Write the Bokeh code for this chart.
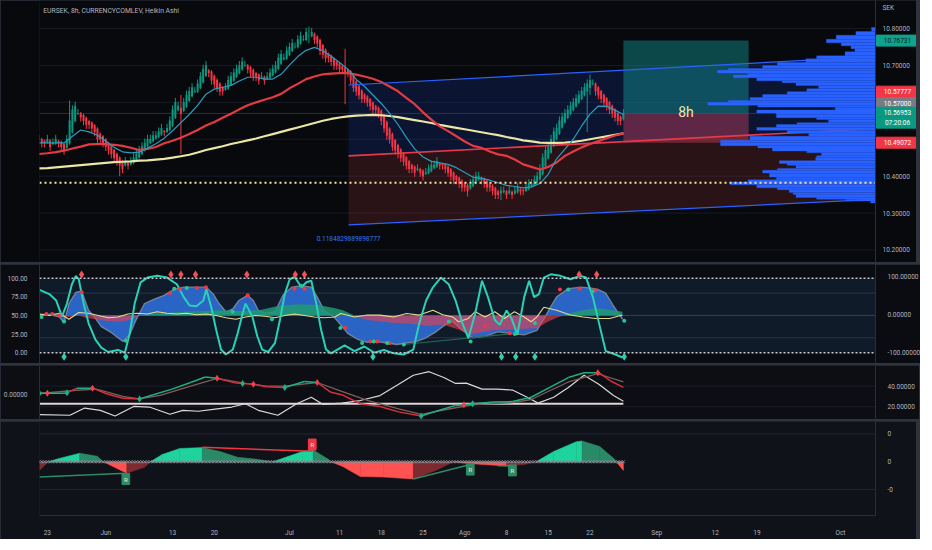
import numpy as np
from bokeh.plotting import figure
from bokeh.models import Range1d, LinearAxis, FixedTicker, PrintfTickFormatter, Span, Label, BoxAnnotation
from bokeh.layouts import column
from bokeh.embed import file_html
from bokeh.resources import INLINE
from bokeh.core.properties import value

# ---------------- time axis (business-day index from 2022-05-23) ----------------
origin = "2022-05-23"
last_bar_date = "2022-08-26"
tick_dates = ["2022-05-23", "2022-06-01", "2022-06-13", "2022-06-20", "2022-07-01", "2022-07-11",
              "2022-07-18", "2022-07-25", "2022-08-01", "2022-08-08", "2022-08-15", "2022-08-22",
              "2022-09-01", "2022-09-12", "2022-09-19", "2022-10-03"]
tick_labels = ["23", "Jun", "13", "20", "Jul", "11", "18", "25", "Ago", "8", "15", "22",
               "Sep", "12", "19", "Oct"]

# ---------------- main panel: Heikin Ashi closes, 8h bars ----------------
ha_close = [
    10.50, 10.49, 10.49, 10.50, 10.48, 10.49, 10.50, 10.49, 10.48,
    10.47, 10.50, 10.55, 10.58, 10.59,
    10.57, 10.56, 10.55, 10.54, 10.54, 10.53, 10.52, 10.50,
    10.50, 10.49, 10.48, 10.47, 10.46, 10.45, 10.44,
    10.43, 10.42, 10.44, 10.43, 10.44, 10.45, 10.46,
    10.47, 10.48, 10.49, 10.50, 10.50, 10.51, 10.51, 10.52, 10.53, 10.52, 10.53, 10.55,
    10.58, 10.60, 10.59, 10.57, 10.60, 10.62, 10.63, 10.64, 10.63,
    10.65, 10.67, 10.69, 10.70, 10.68,
    10.66, 10.65, 10.64, 10.63, 10.63, 10.64,
    10.66, 10.67, 10.68, 10.69, 10.70, 10.71, 10.70,
    10.69, 10.68, 10.67, 10.67, 10.66, 10.67, 10.66, 10.67, 10.68,
    10.69, 10.70, 10.72, 10.73,
    10.72, 10.74, 10.75, 10.76, 10.75, 10.77, 10.78, 10.77, 10.79, 10.78, 10.79,
    10.77, 10.76, 10.74, 10.73, 10.72, 10.72, 10.71, 10.70, 10.70, 10.69, 10.69, 10.68, 10.68,
    10.66, 10.64, 10.63, 10.62, 10.61, 10.61, 10.60, 10.59, 10.58, 10.58, 10.57,
    10.55, 10.53, 10.51, 10.50, 10.48, 10.47, 10.46,
    10.45, 10.44, 10.43, 10.42, 10.42, 10.41, 10.42, 10.41, 10.40, 10.41, 10.42,
    10.43, 10.43, 10.44, 10.43, 10.43,
    10.42, 10.41, 10.40, 10.39, 10.39, 10.38, 10.37, 10.37, 10.36,
    10.38, 10.39, 10.40, 10.40, 10.39,
    10.38, 10.37, 10.37, 10.36, 10.35, 10.35, 10.36, 10.36,
    10.35, 10.36, 10.35, 10.36, 10.37, 10.36, 10.36, 10.37,
    10.38, 10.38, 10.39, 10.40, 10.42,
    10.45, 10.47, 10.48,
    10.50, 10.52, 10.53, 10.55, 10.56, 10.57,
    10.58, 10.59, 10.60, 10.61, 10.62, 10.63,
    10.64, 10.65, 10.66, 10.65,
    10.63, 10.62, 10.61, 10.60,
    10.59, 10.58, 10.57, 10.56, 10.55, 10.55,
    10.57,
]
wick_bar = [11, 29, 51, 97, 110, 154, 166, 197, 198]
wick_hi = [10.605, 10.45, 10.62, 10.805, 10.745, 10.38, 10.37, 10.66, 10.675]
wick_lo = [10.49, 10.40, 10.46, 10.76, 10.595, 10.345, 10.335, 10.52, 10.62]
typical_wick = 0.012

ema_days = list(range(-1, 70))
ema_fast = [10.490, 10.490, 10.490, 10.490, 10.508, 10.525, 10.520, 10.511, 10.495, 10.478,
            10.466, 10.463, 10.465, 10.476, 10.488, 10.503, 10.523, 10.545, 10.567, 10.592,
            10.622, 10.636, 10.641, 10.646, 10.658, 10.668, 10.668, 10.663, 10.663, 10.676,
            10.701, 10.724, 10.741, 10.749, 10.740, 10.725, 10.708, 10.690, 10.662, 10.643,
            10.620, 10.597, 10.570, 10.540, 10.505, 10.474, 10.452, 10.440, 10.436, 10.432,
            10.423, 10.410, 10.397, 10.394, 10.389, 10.382, 10.375, 10.372, 10.368, 10.371,
            10.380, 10.405, 10.447, 10.473, 10.500, 10.536, 10.568, 10.590, 10.589, 10.579,
            10.567]
ema_mid = [10.460, 10.462, 10.465, 10.469, 10.475, 10.480, 10.486, 10.487, 10.487, 10.485,
           10.482, 10.477, 10.471, 10.474, 10.479, 10.489, 10.496, 10.504, 10.514, 10.525,
           10.537, 10.547, 10.558, 10.569, 10.581, 10.592, 10.600, 10.607, 10.614, 10.623,
           10.638, 10.650, 10.663, 10.670, 10.676, 10.678, 10.679, 10.679, 10.675, 10.670,
           10.664, 10.655, 10.643, 10.630, 10.612, 10.595, 10.573, 10.553, 10.535, 10.522,
           10.508, 10.494, 10.482, 10.477, 10.467, 10.459, 10.455, 10.445, 10.432, 10.425,
           10.418, 10.425, 10.437, 10.455, 10.467, 10.478, 10.487, 10.495, 10.503, 10.510,
           10.516]
ema_slow = [10.421, 10.422, 10.424, 10.426, 10.428, 10.430, 10.432, 10.434, 10.436, 10.438,
            10.439, 10.440, 10.442, 10.443, 10.445, 10.447, 10.450, 10.454, 10.458, 10.464,
            10.471, 10.476, 10.481, 10.487, 10.492, 10.497, 10.502, 10.508, 10.514, 10.520,
            10.526, 10.532, 10.538, 10.544, 10.550, 10.555, 10.559, 10.562, 10.564, 10.565,
            10.566, 10.565, 10.563, 10.560, 10.556, 10.552, 10.548, 10.544, 10.539, 10.535,
            10.531, 10.527, 10.523, 10.519, 10.515, 10.511, 10.506, 10.502, 10.497, 10.494,
            10.491, 10.490, 10.490, 10.491, 10.493, 10.496, 10.500, 10.504, 10.508, 10.512,
            10.516]

# regression channel
chan_days = [36.08, 99.2]
chan_top = [10.647, 10.724]
chan_mid = [10.455, 10.529]
chan_bot = [10.268, 10.337]
chan_text = "0.1184829889898777"

# long position tool
pos_days = [69.0, 84.0]
pos_target, pos_entry, pos_stop = 10.76731, 10.57, 10.49072
hline_price = 10.382

# volume profile (price level, volume units)
vp_price = [10.803, 10.792, 10.782, 10.771, 10.761, 10.753, 10.745, 10.737, 10.726, 10.718,
            10.708, 10.700, 10.692, 10.687, 10.679, 10.674, 10.666, 10.658, 10.653, 10.645,
            10.637, 10.629, 10.621, 10.613, 10.605, 10.600, 10.592, 10.587, 10.579, 10.571,
            10.566, 10.558, 10.553, 10.545, 10.540, 10.532, 10.524, 10.516, 10.508, 10.497,
            10.490, 10.482, 10.476, 10.468, 10.463, 10.455, 10.450, 10.442, 10.434, 10.429,
            10.421, 10.416, 10.408, 10.397, 10.390, 10.384, 10.376, 10.368, 10.363, 10.355,
            10.350, 10.342, 10.337, 10.332]
vp_vol = [4, 20, 40, 50, 35, 25, 21, 31, 60, 71,
          100, 115, 150, 161, 130, 145, 121, 95, 81, 58,
          70, 90, 115, 128, 150, 171, 120, 41, 121, 101,
          101, 60, 48, 80, 101, 121, 90, 68, 128, 158,
          158, 120, 105, 70, 55, 60, 61, 98, 90, 81,
          100, 115, 108, 101, 130, 148, 121, 100, 88, 84,
          81, 60, 30, 5]

# price-scale tags
tag_text = ["10.76731", "10.57777", "10.57000", "10.56953", "10.49072"]
tag_price = [10.7673, 10.629, 10.598, 10.572, 10.4907]
tag_bg = ["#0fa38d", "#f23645", "#787b86", "#089981", "#f23645"]
tag_fg = ["#0b1d1a", "#ffffff", "#ffffff", "#ffffff", "#ffffff"]
countdown_text = "07:20:06"
countdown_price = 10.545
price_ticks = [10.2, 10.3, 10.4, 10.5, 10.6, 10.7, 10.8]
price_labels_shown = [10.2, 10.3, 10.4, 10.7, 10.8]
currency = "SEK"

# ---------------- panel 2: oscillators ----------------
blue_d = [-0.94, 0.24, 1.41, 2.0, 2.59, 3.41, 4.11, 4.94, 5.76, 6.46, 7.52, 8.46, 9.05, 9.87, 10.46,
          10.81, 11.64, 12.81, 13.99, 15.16, 16.34, 17.87, 19.04, 19.86, 20.57, 21.39, 22.22, 22.92,
          23.98, 24.68, 25.27, 26.09, 27.27, 28.21, 29.27, 30.44, 31.62, 32.32, 33.15, 34.32, 34.79,
          35.97, 37.14, 38.32, 39.49, 40.67, 41.84, 43.02, 44.19, 45.37, 46.55, 47.72, 48.55, 49.72,
          50.9, 52.43, 53.95, 55.36, 57.12, 58.65, 59.47, 60.3, 61.0, 62.41, 63.82, 65.0, 65.94,
          66.88, 67.7, 68.88]
blue_v = [50, 51, 48, 40, 66, 81, 83, 57, 46, 35, 28, 20, 15, 24, 40,
          48, 66, 72, 77, 85, 88, 88, 88, 79, 66, 55, 59, 70,
          77, 70, 57, 53, 55, 77, 88, 90, 88, 75, 57, 48, 42,
          26, 18, 14, 15, 13, 11, 13, 15, 20, 28, 38, 42, 30,
          20, 22, 28, 26, 24, 30, 45, 62, 75, 86, 88, 87, 85,
          80, 65, 45]
rg_d = [-0.94, 0.71, 1.41, 2.59, 3.76, 4.58, 5.76, 6.93, 8.11, 8.93, 10.11, 10.81, 11.64, 12.81,
        13.99, 15.99, 18.34, 20.69, 23.04, 25.39, 26.56, 27.74, 30.09, 32.44, 34.32, 35.38, 36.79,
        38.32, 41.49, 43.61, 45.37, 47.37, 49.25, 50.66, 51.48, 53.25, 55.95, 58.65, 59.83, 61.0,
        61.83, 63.59, 65.7, 67.7, 68.88]
rg_v = [52, 53, 51, 48, 50, 47, 45, 43, 42, 42, 45, 49, 51, 52,
        53, 55, 56, 57, 56, 57, 60, 63, 65, 64, 60, 57, 50,
        44, 40, 39, 36, 38, 31, 24, 26, 30, 31, 33, 41, 47,
        51, 56, 60, 57, 55]
yel_d = [-0.94, 0.24, 1.41, 2.59, 3.76, 4.94, 6.11, 7.29, 8.46, 9.64, 10.81, 11.99, 13.16, 14.34,
         15.52, 16.69, 17.87, 19.04, 20.22, 21.39, 22.57, 23.74, 24.92, 26.09, 27.27, 28.44, 29.62,
         30.79, 31.97, 33.15, 34.44, 35.14, 36.79, 38.32, 39.85, 41.49, 43.02, 44.55, 46.19, 47.37,
         48.55, 49.25, 50.43, 51.25, 52.43, 53.6, 54.77, 55.95, 57.12, 57.95, 58.65, 59.47, 61.0,
         62.65, 64.18, 65.7, 67.35, 68.88]
yel_v = [52, 50, 53, 45, 54, 53, 50, 47, 48, 52, 53, 52, 55, 53,
         52, 53, 51, 52, 50, 47, 45, 48, 50, 49, 47, 50, 52,
         50, 48, 47, 48, 52.6, 48, 50.5, 50.5, 48, 52.6, 50.5, 57, 51,
         48, 41.6, 46, 55, 48, 55, 46, 55, 48, 41.6, 48, 61, 57,
         50.5, 48, 46, 46, 50.5]
cci_d = [-0.94, 0.24, 1.06, 1.76, 2.35, 2.94, 3.41, 3.76, 4.35, 4.94, 5.76, 6.46, 7.29, 8.46, 9.29,
         9.87, 10.46, 11.17, 11.99, 13.16, 14.34, 15.52, 16.34, 17.04, 17.87, 18.69, 19.04, 19.63,
         20.22, 20.80, 21.39, 22.22, 22.80, 23.39, 23.74, 24.57, 25.15, 25.74, 26.45, 27.27, 27.86,
         28.44, 29.03, 29.62, 30.44, 31.03, 31.62, 32.21, 32.79, 33.38, 33.97, 34.44, 35.61, 36.79,
         37.97, 39.14, 40.32, 41.49, 42.67, 43.84, 44.55, 45.37, 46.19, 47.13, 48.07, 48.90, 49.72,
         50.43, 51.25, 52.07, 52.78, 53.6, 54.19, 55.01, 55.60, 56.30, 57.12, 57.71, 58.30, 58.89,
         59.47, 60.30, 61.47, 62.65, 63.82, 64.53, 65.35, 66.17, 66.88, 68.06, 68.88]
cci_v = [66, 55, 38, -4, 30, 81, 103, 94, 30, -22, -65, -86, -97.5, -92, -99,
         -48, 30, 86, 98.5, 103, 98.5, 81, 47, 25, 23, 38, 68, 21,
         -39, -91, -104, -91, -48, 4, 30, -5, -56, -91, -97.5, -73.5, -13,
         55, 94, 100, 73, 86, 90, 30, -39, -91, -101, -95, -80, -95,
         -83, -99, -92, -101, -104, -91, -22, 38, 73, 98.5, 81, 38, -22,
         -61, 4, 90, 47, -13, -26, 12, -9, -52, 47, 90, 47, 55,
         98.5, 107, 103, 94, 103, 98.5, 47, -30, -95, -104, -112]
top_diamond_d = [4.1, 14.8, 16.0, 17.75, 23.9, 29.7, 30.8, 63.7, 65.8]
bot_diamond_d = [2.0, 9.4, 39.0, 54.4, 56.1, 58.4, 69.1]
dot_red_d = [-0.12, 0.59, 1.41, 4.1, 14.7, 15.9, 17.9, 19.0, 24.0, 29.6, 30.8, 35.7, 38.7, 39.5, 41.0,
             52.4, 55.4, 61.4, 63.8, 65.7]
dot_red_v = [52, 52, 50, 81, 80, 86, 87, 88, 77, 86, 86, 33, 15, 15, 13, 36, 26, 85, 86, 84]
dot_grn_d = [-0.7, 2.0, 9.4, 15.2, 16.7, 22.2, 26.9, 30.4, 35.1, 37.7, 39.1, 40.7, 42.7, 48.1, 50.7,
             56.0, 58.4, 62.4, 65.3, 69.1]
dot_grn_v = [48, 42, 16, 86, 87, 55, 45, 90, 33, 13, 15, 13, 11, 42, 15, 25, 40, 85, 82, 43]
div2_d = [42.7, 56.0]
div2_v = [11, 26]

# ---------------- panel 3: directional lines ----------------
adx_d = [-0.94, 2.7, 4.47, 6.35, 8.11, 10.34, 12.22, 14.69, 16.22, 18.1, 19.86, 22.1, 23.74, 25.27,
         27.62, 29.86, 31.62, 33.03, 35.26, 37.49, 39.85, 42.08, 43.84, 45.72, 47.49, 48.9, 50.19,
         52.07, 53.83, 55.71, 57.48, 58.77, 60.65, 62.41, 64.29, 66.06, 67.82, 69.0]
adx_v = [12.4, 11.7, 18.7, 16.5, 11, 20.3, 19.7, 12.7, 16.5, 15.6, 17.5, 19.7, 22.9, 16.5,
         11.7, 22.9, 29.2, 22.2, 23.5, 26, 30.8, 41.9, 50.5, 54, 48.3, 42.6, 42.9,
         37.1, 37.1, 36.2, 29.2, 23.5, 29.2, 38.7, 50.5, 41.9, 30.8, 25.4]
fast_d = [-0.94, 2.23, 3.53, 5.41, 7.17, 9.05, 11.05, 12.69, 14.93, 17.16, 18.92, 20.33, 22.57, 24.68,
          26.21, 28.44, 30.79, 32.32, 33.97, 35.26, 37.49, 39.85, 42.08, 44.78, 46.55, 48.9, 51.13,
          53.36, 55.71, 57.95, 60.18, 62.41, 64.29, 66.06, 67.47, 69.0]
fast_v = [33, 33, 38, 38, 32.4, 28.3, 27.6, 31.7, 37.1, 43.5, 48.9, 47.6, 42.9, 41.9,
          39.3, 38.7, 44.5, 43.5, 34, 31.7, 22.9, 20.3, 15, 11, 15.6, 21.3, 22.9,
          24.5, 25, 29.2, 38.7, 48.3, 53, 53, 45, 38.7]
slow_d = [-0.94, 3.53, 5.88, 9.05, 11.05, 13.52, 17.16, 20.33, 23.51, 26.21, 28.44, 32.32, 35.26,
          38.43, 42.08, 44.78, 48.9, 51.13, 55.71, 57.95, 62.41, 65.94, 69.0]
slow_v = [33, 36, 37, 30, 27.6, 31, 40, 47.6, 43, 40, 40, 43.5, 35,
          26, 18, 12.5, 19, 22, 24, 27, 44, 52, 44]
cross_d = [-0.94, 0.0, 2.35, 5.41, 11.05, 20.33, 23.39, 24.68, 28.44, 32.32, 44.78, 49.9, 50.95, 65.94]
cross_up = [1, 0, 1, 0, 1, 0, 1, 0, 1, 0, 1, 0, 1, 0]
adx_level = 23

# ---------------- panel 4: momentum histogram ----------------
hist_d = [-0.94, 0.12, 1.18, 3.88, 5.99, 6.70, 8.82, 9.52, 11.64, 12.34, 13.75, 15.87, 18.57, 20.69,
          22.80, 24.92, 27.03, 28.44, 30.56, 31.85, 33.62, 33.97, 35.38, 37.49, 40.31, 43.84, 46.54,
          48.66, 50.07, 52.19, 55.01, 57.12, 58.53, 60.65, 63.35, 64.06, 66.17, 67.93, 68.29, 69.0]
hist_v = [-0.31, 0.0, 0.1, 0.31, 0.2, 0.0, -0.31, -0.41, -0.2, 0.0, 0.26, 0.48, 0.51, 0.37,
          0.16, 0.1, 0.0, 0.15, 0.37, 0.42, 0.1, 0.0, -0.17, -0.53, -0.55, -0.62, -0.31,
          0.0, -0.05, -0.1, -0.15, -0.1, 0.0, 0.37, 0.72, 0.75, 0.55, 0.1, -0.05, -0.31]
div_lines = [
    ([-0.94, 9.4], [-0.55, -0.41], "#2e8b65"),
    ([18.57, 31.73], [0.52, 0.38], "#f23645"),
    ([43.84, 50.66], [-0.62, -0.10], "#2e8b65"),
    ([53.95, 55.71], [-0.14, -0.14], "#2e8b65"),
]
r_tags = [(9.4, -0.62, "#2e8b65"), (31.73, 0.62, "#f23645"), (50.66, -0.28, "#2e8b65"),
          (55.71, -0.31, "#2e8b65")]

# =====================================================================
FONT = "Roboto"
TXT = "#b2b5be"
FS = "6.5px"
FW = 836
AXW = 44
X0, X1 = -0.94, 99.2
PXD = FW / (X1 - X0)          # screen px per business day
PX_PER_VOL_DAY = 8.508
xr = Range1d(X0, X1)

tick_days = [int(np.busday_count(origin, t)) for t in tick_dates]
last_day = int(np.busday_count(origin, last_bar_date))


def make_fig(h, yr, bg, bottom=0, xaxis=False, yloc="right", x_range=None, fw=FW, right=AXW):
    p = figure(frame_width=fw, frame_height=h, x_range=x_range or xr, y_range=yr, title=None,
               output_backend="svg", toolbar_location=None,
               x_axis_location="below" if xaxis else None, y_axis_location=yloc,
               min_border_left=36, min_border_right=right, min_border_top=0, min_border_bottom=bottom,
               background_fill_color=bg, border_fill_color=bg, outline_line_color=None)
    p.xgrid.visible = False
    p.ygrid.visible = False
    return p


def style_axis(ax, ticks, fmt=None, overrides=None):
    ax.ticker = FixedTicker(ticks=ticks)
    if fmt:
        ax.formatter = PrintfTickFormatter(format=fmt)
    if overrides:
        ax.major_label_overrides = overrides
    ax.major_label_text_color = TXT
    ax.major_label_text_font = FONT
    ax.major_label_text_font_size = FS
    ax.major_tick_line_color = None
    ax.minor_tick_line_color = None
    ax.axis_line_color = "#2a2e39"
    ax.major_label_standoff = 6


def hspan(p, loc, color, width=1, dash="solid", level="underlay", y_range_name="default"):
    s = Span(location=loc, dimension="width", line_color=color, line_width=width, line_dash=dash,
             level=level, y_range_name=y_range_name)
    p.add_layout(s)


# ---------------- main panel (price scale drawn inside its own strip) ----------------
XR1 = X1 + AXW / PXD
p1 = make_fig(262, Range1d(10.166, 10.876), "#08090d", yloc=None,
              x_range=Range1d(X0, XR1), fw=FW + AXW, right=0)
for t in price_ticks:
    p1.segment(x0=X0, x1=X1, y0=t, y1=t, line_color="#181b24", line_width=1)
p1.segment(x0=X0, x1=X1, y0=pos_entry, y1=pos_entry, line_color="#2c303b", line_width=1)

c = np.array(ha_close)
N = len(c)
bar_d = last_day - (N - 1 - np.arange(N)) / 3.0
o = np.empty(N)
o[0] = c[0]
for j in range(1, N):
    o[j] = (o[j - 1] + c[j - 1]) / 2.0
up = c >= o
hi = np.where(up, np.maximum(o, c) + typical_wick, np.maximum(o, c) + typical_wick / 3)
lo = np.where(up, np.minimum(o, c) - typical_wick / 3, np.minimum(o, c) - typical_wick)
for b, h, l in zip(wick_bar, wick_hi, wick_lo):
    hi[b] = max(hi[b], h)
    lo[b] = min(lo[b], l)
ccol = np.where(up, "#089981", "#f23645")

# channel fills
p1.varea(x=chan_days, y1=chan_mid, y2=chan_top, fill_color="#1848c8", fill_alpha=0.2)
p1.varea(x=chan_days, y1=chan_bot, y2=chan_mid, fill_color="#c0404a", fill_alpha=0.18)
# position tool
p1.quad(left=pos_days[0], right=pos_days[1], top=pos_target, bottom=pos_entry,
        fill_color="#12a0a0", fill_alpha=0.42, line_color=None)
p1.quad(left=pos_days[0], right=pos_days[1], top=pos_entry, bottom=pos_stop,
        fill_color="#d04060", fill_alpha=0.42, line_color=None)
# candles
p1.segment(x0=bar_d, y0=lo, x1=bar_d, y1=hi, line_color=ccol, line_width=1)
p1.vbar(x=bar_d, width=0.24, top=np.maximum(o, c) + 0.0008, bottom=np.minimum(o, c) - 0.0008,
        fill_color=ccol, line_color=None)
# moving averages
p1.line(ema_days, ema_slow, line_color="#ece6a6", line_width=2.2)
p1.line(ema_days, ema_mid, line_color="#e23b42", line_width=2.2)
p1.line(ema_days, ema_fast, line_color="#2a9dbf", line_width=1.2)
# channel lines
p1.line(chan_days, chan_top, line_color="#2962ff", line_width=1.2)
p1.line(chan_days, chan_mid, line_color="#e8394a", line_width=1.6)
p1.line(chan_days, chan_bot, line_color="#2962ff", line_width=1.2)
# volume profile
vp_top = np.array(vp_price)
vp_bot = np.append(vp_top[1:], vp_top[-1] - 0.005)
p1.quad(left=X1 - np.array(vp_vol) / PX_PER_VOL_DAY, right=X1, top=vp_top, bottom=vp_bot + 0.0004,
        fill_color="#2962ff", line_color="#2962ff", line_width=0.3)
p1.segment(x0=X0, x1=X1, y0=hline_price, y1=hline_price, line_color="#efe6a8", line_width=2,
           line_dash="2 3")
# price scale strip
p1.segment(x0=X1, x1=X1, y0=10.166, y1=10.876, line_color="#2a2e39", line_width=1)
ax_x = X1 + 7 / PXD
p1.text(x=[ax_x] * len(price_labels_shown), y=price_labels_shown,
        text=["%.5f" % v for v in price_labels_shown], text_color=TXT, text_font=value(FONT),
        text_font_size=value(FS), text_baseline="middle", text_align="left")
p1.text(x=[ax_x], y=[10.855], text=[currency], text_color=TXT, text_font=value(FONT),
        text_font_size=value(FS), text_baseline="middle", text_align="left")
tag_x = X1 + (AXW / 2) / PXD
p1.rect(x=[tag_x] * len(tag_text), y=tag_price, width=AXW - 2, height=11, width_units="screen",
        height_units="screen", fill_color=tag_bg, line_color=tag_bg)
p1.rect(x=[tag_x], y=[countdown_price], width=AXW - 2, height=11, width_units="screen",
        height_units="screen", fill_color="#089981", line_color="#089981")
p1.text(x=[tag_x] * len(tag_text), y=tag_price, text=tag_text, text_color=tag_fg,
        text_font=value(FONT), text_font_size=value(FS), text_baseline="middle", text_align="center")
p1.text(x=[tag_x], y=[countdown_price], text=[countdown_text], text_color="#ffffff",
        text_font=value(FONT), text_font_size=value(FS), text_baseline="middle", text_align="center")

p1.add_layout(Label(x=X0 + 0.45, y=10.847, text="EURSEK, 8h, CURRENCYCOMLEV, Heikin Ashi",
                    text_color=TXT, text_font=FONT, text_font_size="6.8px", text_baseline="middle"))
p1.add_layout(Label(x=chan_days[0], y=10.232, text=chan_text, text_color="#3179f5", text_font=FONT,
                    text_font_size=FS, text_align="center", text_baseline="middle"))
p1.add_layout(Label(x=(pos_days[0] + pos_days[1]) / 2, y=pos_entry + 0.004, text="8h",
                    text_color="#efe6b0", text_font=FONT, text_font_size="14px",
                    text_align="center", text_baseline="middle"))

# ---------------- panel 2 ----------------
p2 = make_fig(99, Range1d(-14.5, 118.4), "#0a0c11", yloc="left")
p2.extra_y_ranges = {"r": Range1d(-127.7, 132.9)}
style_axis(p2.yaxis[0], [0, 25, 50, 75, 100], "%.2f")
ax2r = LinearAxis(y_range_name="r")
p2.add_layout(ax2r, "right")
style_axis(ax2r, [-100, 0, 100], "%.5f")
p2.add_layout(BoxAnnotation(bottom=0, top=100, fill_color="#16283f", fill_alpha=0.55, line_color=None,
                            level="underlay"))
for lv in (80, 20):
    hspan(p2, lv, "#2c3445")
hspan(p2, 50, "#3a3f4c")

bv = np.array(blue_v, dtype=float)
p2.varea(x=blue_d, y1=50, y2=bv, fill_color="#2c68cc", fill_alpha=0.95)
p2.line(blue_d, bv, line_color="#9a9ca3", line_width=1.3, line_alpha=0.7)
rv = np.array(rg_v, dtype=float)
p2.varea(x=rg_d, y1=50, y2=np.maximum(rv, 50), fill_color="#1f9a72", fill_alpha=0.85)
p2.varea(x=rg_d, y1=50, y2=np.minimum(rv, 50), fill_color="#e8404a", fill_alpha=0.62)
p2.line(yel_d, yel_v, line_color="#e6dc8c", line_width=1.1)
p2.line(div2_d, div2_v, line_color="#1e6b54", line_width=1.2)
p2.line(cci_d, cci_v, line_color="#2bd1b5", line_width=2, y_range_name="r")
p2.scatter(dot_red_d, dot_red_v, marker="circle", size=4, fill_color="#f23645", line_color=None)
p2.scatter(dot_grn_d, dot_grn_v, marker="circle", size=4, fill_color="#22c98f", line_color=None)
p2.scatter(top_diamond_d, [105] * len(top_diamond_d), marker="diamond", size=8,
           fill_color="#f0505a", line_color=None)
p2.scatter(bot_diamond_d, [-5.3] * len(bot_diamond_d), marker="diamond", size=8,
           fill_color="#2bd1b5", line_color=None)
hspan(p2, 100, "#c8c8c8", width=1.5, dash="2 2", level="overlay")
hspan(p2, 0, "#c8c8c8", width=1.5, dash="2 2", level="overlay")

# ---------------- panel 3 ----------------
p3 = make_fig(54, Range1d(7.6, 60), "#0c0e14")
style_axis(p3.yaxis[0], [20, 40], "%.5f")
p3.extra_y_ranges = {"l": Range1d(-0.833, 1.0)}
ax3l = LinearAxis(y_range_name="l")
p3.add_layout(ax3l, "left")
style_axis(ax3l, [0], "%.5f")
for lv in (20, 40):
    hspan(p3, lv, "#1a1e28")
p3.line([X0, last_day], [adx_level, adx_level], line_color="#e4d4d4", line_width=2)
p3.line(adx_d, adx_v, line_color="#d9d9d9", line_width=1.2)
p3.line(slow_d, slow_v, line_color="#7d5f58", line_width=1.3)
fd = np.array(fast_d)
fv = np.array(fast_v)
xs, ys, cols = [], [], []
for i in range(len(fd) - 1):
    k = max(int(np.searchsorted(cross_d, fd[i] + 1e-6, side="right")) - 1, 0)
    xs.append([fd[i], fd[i + 1]])
    ys.append([fv[i], fv[i + 1]])
    cols.append("#1fae86" if cross_up[k] else "#d4303e")
p3.multi_line(xs, ys, line_color=cols, line_width=1.5)
cy = np.interp(cross_d, fd, fv)
p3.scatter(cross_d, cy, marker="diamond", size=7, line_color=None,
           fill_color=["#1fae86" if u else "#f0404c" for u in cross_up])

# ---------------- panel 4 ----------------
p4 = make_fig(94, Range1d(-1.93, 1.448), "#0f1218", bottom=19, xaxis=True)
style_axis(p4.yaxis[0], [-1, 0, 1], None, {-1: "-0", 0: "0", 1: "0"})
style_axis(p4.xaxis[0], tick_days, None, {d: l for d, l in zip(tick_days, tick_labels)})
p4.xaxis[0].major_label_standoff = 7
for lv in (-1, 1):
    hspan(p4, lv, "#232733")
hx, hy, hc = [], [], []
for i in range(len(hist_d) - 1):
    d0, d1, v0, v1 = hist_d[i], hist_d[i + 1], hist_v[i], hist_v[i + 1]
    rising = v1 > v0
    if (v0 + v1) / 2 >= 0:
        col = "#1fd39c" if rising else "#2a8a68"
    else:
        col = "#7e2a31" if rising else "#ff5252"
    hx.append([d0, d0, d1, d1])
    hy.append([0, v0, v1, 0])
    hc.append(col)
p4.patches(hx, hy, fill_color=hc, line_color=hc, line_width=0.5)
p4.scatter(bar_d, np.zeros(N), marker="x", size=4, line_color="#8c8f98", line_width=1)
for dx, dy, col in div_lines:
    p4.line(dx, dy, line_color=col, line_width=1.5)
for rx, ry, col in r_tags:
    p4.add_layout(Label(x=rx, y=ry, text="R", text_color="#f2eccc", text_font=FONT, text_font_size="6px",
                        text_align="center", text_baseline="middle", background_fill_color=col,
                        border_line_color=col, padding=2))

layout = column(p1, p2, p3, p4, spacing=2, styles={"background-color": "#2f333e"})
open("out.html", "w").write(file_html(layout, INLINE))
